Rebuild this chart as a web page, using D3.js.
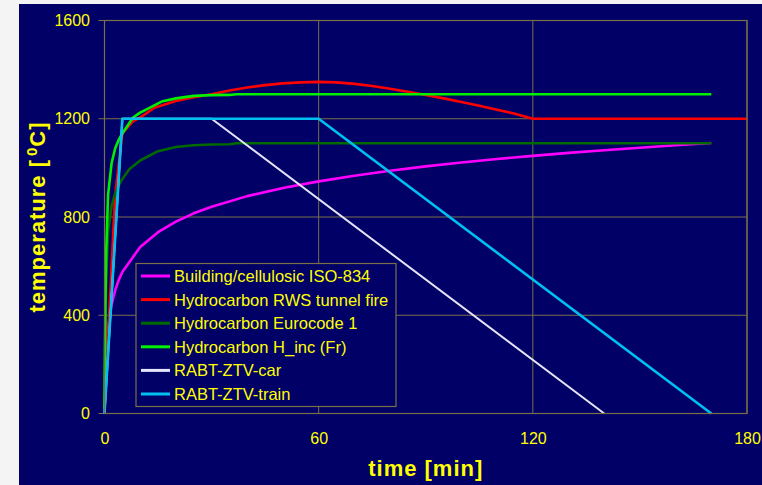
<!DOCTYPE html>
<html>
<head>
<meta charset="utf-8">
<script src="https://cdn.jsdelivr.net/npm/d3@7"></script>
<style>
body{margin:0;background:#f4f4f4;}
svg{display:block;font-family:Arial,"Liberation Sans",sans-serif;}
</style>
</head>
<body>
<script>
// tick labels
var xTicks=[0,60,120,180];
var yTicks=[0,400,800,1200,1600];

// legend names and line colours, in drawing order
var seriesNames=["Building/cellulosic ISO-834","Hydrocarbon RWS tunnel fire","Hydrocarbon Eurocode 1","Hydrocarbon H_inc (Fr)","RABT-ZTV-car","RABT-ZTV-train"];
var seriesColors=["#ff00ff","#ff0000","#006a00","#00f000","#e4e4fa","#00c0f0"];

// time [min] / temperature [°C]
var isoTime=[0,1,2,3,4,5,10,15,20,25,30,40,50,60,70,80,90,100,110,120,130,140,150,160,170];
var isoTemp=[20,349,444,502,544,576,678,738,781,815,842,885,918,945,968,988,1006,1022,1036,1049,1061,1072,1082,1092,1101];

var rwsTime=[0,3,5,8,10,14,20,25,30,35,40,45,50,55,60,65,70,75,80,85,90,95,100,105,110,115,120,180];
var rwsTemp=[20,890,1140,1190,1205,1245,1272,1288,1300,1315,1327,1337,1344,1348,1350,1348,1342,1333,1322,1310,1297,1283,1268,1253,1237,1220,1200,1200];

var ec1Time=[0,0.25,0.5,1,2,3,4,5,7,10,15,20,25,30,35,37,170];
var ec1Temp=[20,373,569,740,845,895,930,955,995,1030,1068,1085,1092,1095,1096,1100,1100];

var hcTime=[0,0.25,0.5,1,2,3,4,5,8,10,16,20,25,30,35,37,170];
var hcTemp=[20,438,670,890,1020,1080,1115,1140,1205,1225,1270,1283,1293,1296,1297,1300,1300];

var carTime=[0,5,30,140];
var carTemp=[0,1200,1200,0];

var trainTime=[0,5,60,170];
var trainTemp=[0,1200,1200,0];

var seriesTimes=[isoTime,rwsTime,ec1Time,hcTime,carTime,trainTime];
var seriesTemps=[isoTemp,rwsTemp,ec1Temp,hcTemp,carTemp,trainTemp];

var width=762, height=485;
var plot={left:104.5, right:747, top:20.5, bottom:413.5};
var gridColor="#7a7048";
var textColor="#ffff00";

var x=d3.scaleLinear().domain([0,180]).range([plot.left,plot.right]);
var y=d3.scaleLinear().domain([0,1600]).range([plot.bottom,plot.top]);

var svg=d3.select("body").append("svg").attr("width",width).attr("height",height);

svg.append("rect")
  .attr("x",19).attr("y",4).attr("width",width-19).attr("height",height-4)
  .attr("fill","#000066");

// grid lines (horizontal ones stick out left as tick marks)
svg.append("g").selectAll("line")
  .data(yTicks)
  .enter().append("line")
    .attr("x1",plot.left-6).attr("x2",plot.right)
    .attr("y1",function(d){return y(d);}).attr("y2",function(d){return y(d);})
    .attr("stroke",gridColor).attr("stroke-width",1);
svg.append("g").selectAll("line")
  .data(xTicks)
  .enter().append("line")
    .attr("x1",function(d){return x(d);}).attr("x2",function(d){return x(d);})
    .attr("y1",plot.top).attr("y2",plot.bottom)
    .attr("stroke",gridColor).attr("stroke-width",1);

var yAxis=d3.axisLeft(y).tickValues(yTicks).tickFormat(d3.format("d")).tickSize(0).tickPadding(14.5);
var xAxis=d3.axisBottom(x).tickValues(xTicks).tickFormat(d3.format("d")).tickSize(0).tickPadding(19);

svg.append("g")
  .attr("transform","translate("+plot.left+",0)")
  .call(yAxis)
  .call(function(g){g.select(".domain").remove();})
  .selectAll("text").attr("fill",textColor).attr("font-size",16).attr("font-family","Arial, 'Liberation Sans', sans-serif");
svg.append("g")
  .attr("transform","translate(0,"+plot.bottom+")")
  .call(xAxis)
  .call(function(g){g.select(".domain").remove();})
  .selectAll("text").attr("fill",textColor).attr("font-size",16).attr("font-family","Arial, 'Liberation Sans', sans-serif");

var line=d3.line()
  .x(function(d){return x(d[0]);})
  .y(function(d){return y(d[1]);});

svg.append("g").selectAll("path")
  .data(seriesNames)
  .enter().append("path")
    .attr("d",function(d,i){return line(d3.zip(seriesTimes[i],seriesTemps[i]));})
    .attr("fill","none")
    .attr("stroke",function(d,i){return seriesColors[i];})
    .attr("stroke-width",function(d,i){return i==4?2:2.6;})
    .attr("stroke-linejoin","round");

// plot border
svg.append("rect")
  .attr("x",plot.left).attr("y",plot.top)
  .attr("width",plot.right-plot.left).attr("height",plot.bottom-plot.top)
  .attr("fill","none").attr("stroke",gridColor).attr("stroke-width",1.2);

// legend
var legend=svg.append("g").attr("transform","translate(136,263.5)");
legend.append("rect")
  .attr("width",260).attr("height",143)
  .attr("fill","#000066").attr("stroke",gridColor).attr("stroke-width",1.2);
var rows=legend.selectAll("g.row")
  .data(seriesNames)
  .enter().append("g")
    .attr("class","row")
    .attr("transform",function(d,i){return "translate(0,"+(12.5+i*23.6)+")";});
rows.append("line")
  .attr("x1",5).attr("x2",34)
  .attr("stroke",function(d,i){return seriesColors[i];})
  .attr("stroke-width",3);
rows.append("text")
  .attr("x",38).attr("dy","0.36em")
  .attr("font-size",16.5).attr("fill",textColor)
  .text(function(d){return d;});

// axis titles
svg.append("text")
  .attr("x",(plot.left+plot.right)/2).attr("y",476)
  .attr("text-anchor","middle")
  .attr("font-size",22).attr("font-weight","bold").attr("letter-spacing",1)
  .attr("fill",textColor)
  .text("time [min]");

var yTitle=svg.append("text")
  .attr("transform","translate(45,"+((plot.top+plot.bottom)/2)+") rotate(-90)")
  .attr("text-anchor","middle")
  .attr("font-size",22).attr("font-weight","bold").attr("letter-spacing",1)
  .attr("fill",textColor);
yTitle.append("tspan").text("temperature [");
yTitle.append("tspan").attr("dx",3).attr("font-size",15).attr("baseline-shift","super").text("0");
yTitle.append("tspan").text("C]");
</script>
</body>
</html>
